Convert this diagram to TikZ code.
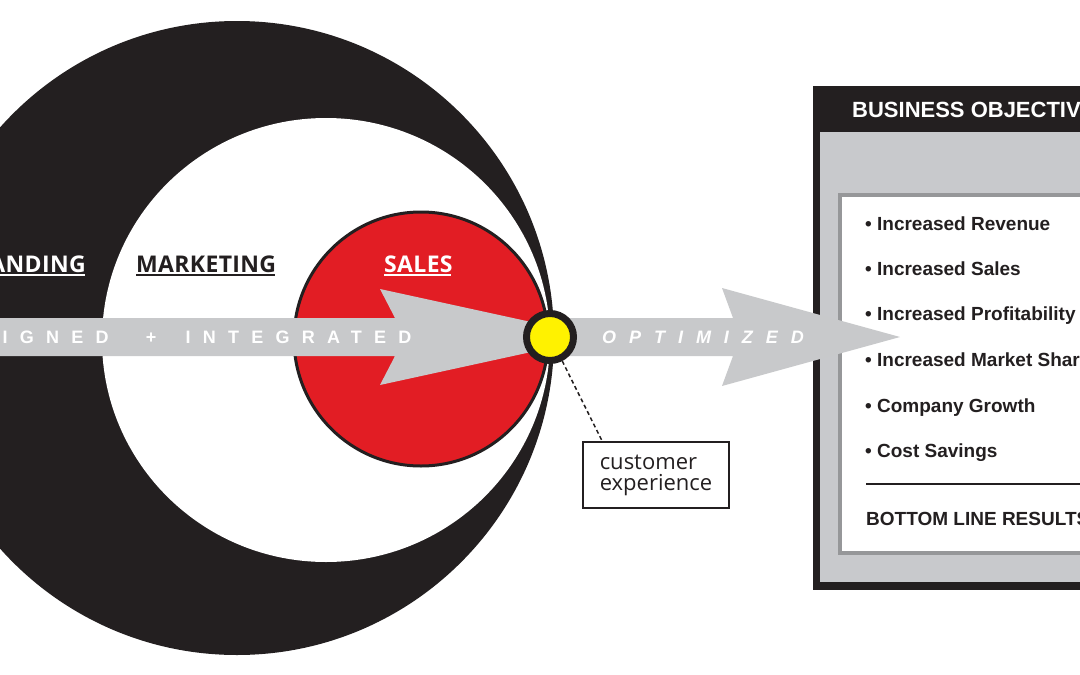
\documentclass[tikz,border=0pt]{standalone}
\usepackage{fontspec}
\setmainfont{Liberation Sans}
\newfontfamily\hv{Liberation Sans}
\newfontfamily\hvsp[LetterSpace=68]{Liberation Sans}
\newfontfamily\hvspo[LetterSpace=72]{Liberation Sans}
\newfontfamily\myr{Open Sans}
\newfontfamily\myrsp[LetterSpace=1.5]{Open Sans}
\usetikzlibrary{calc}
\definecolor{ink}{RGB}{35,31,32}
\definecolor{arrowgray}{RGB}{200,201,203}
\definecolor{panelgray}{RGB}{200,201,204}
\definecolor{edgegray}{RGB}{150,151,153}
\definecolor{salesred}{RGB}{226,29,36}
\definecolor{dotyellow}{RGB}{255,242,0}
\tikzset{
  ringlabel/.style={inner sep=0pt, font=\myrsp\bfseries\fontsize{23}{23}\selectfont, text=ink},
  uline/.style={line width=2pt},
  flowtext/.style={inner sep=0pt, text=white, anchor=base west},
  item/.style={inner sep=0pt, anchor=base west, text=ink, font=\hv\bfseries\fontsize{19}{19}\selectfont},
  grayarrow/.style={fill=arrowgray},
}
\begin{document}
\begin{tikzpicture}[x=1pt,y=-1pt]
\useasboundingbox (0,0) rectangle (1080,675);
\clip (0,0) rectangle (1080,675);
\fill[white] (0,0) rectangle (1080,675);

% rings
\fill[ink] (237,338) circle[radius=317pt];
\fill[white] (326,340) ellipse[x radius=224pt, y radius=222pt];
\filldraw[fill=salesred, draw=ink, line width=3pt] (421,339) circle[radius=127pt];

% ring labels
\node[ringlabel, anchor=base east, text=white] (brand) at (86,272) {BRANDING};
\node[ringlabel, anchor=base west] (mkt) at (136,272) {MARKETING};
\node[ringlabel, anchor=base west, text=white] (sales) at (384,272) {SALES};
\draw[uline, white] ([yshift=-2.5pt]brand.base west) -- ([yshift=-2.5pt,xshift=-1.5pt]brand.base east);
\draw[uline, ink] ([yshift=-2.5pt]mkt.base west) -- ([yshift=-2.5pt,xshift=-1.5pt]mkt.base east);
\draw[uline, white] ([yshift=-2.5pt]sales.base west) -- ([yshift=-2.5pt,xshift=-1.5pt]sales.base east);

% first arrow
\fill[grayarrow] (-5,318) -- (395,318) -- (380,289) -- (600,337) -- (380,385) -- (395,356) -- (-5,356) -- cycle;
\node[flowtext, font=\hvsp\bfseries\fontsize{18}{18}\selectfont] (aligned) at (-46,343.5) {ALIGNED\hspace{20pt} + \hspace{12pt}INTEGRATED};

% business objectives box
\fill[ink] (813,86) rectangle (1090,590);
\fill[panelgray] (820,132) rectangle (1090,582);
\filldraw[fill=white, draw=edgegray, line width=4pt] (840,195) rectangle (1095,553);
\node[inner sep=0pt, anchor=base west, text=white, font=\hv\bfseries\fontsize{22}{22}\selectfont] (title) at (852,117) {BUSINESS OBJECTIVES};
\node[item] (i1) at (865,230) {\textbullet\ Increased Revenue};
\node[item] (i2) at (865,275.5) {\textbullet\ Increased Sales};
\node[item] (i3) at (865,320.5) {\textbullet\ Increased Profitability};
\node[item] (i4) at (865,366.5) {\textbullet\ Increased Market Share};
\node[item] (i5) at (865,412) {\textbullet\ Company Growth};
\node[item] (i6) at (865,457) {\textbullet\ Cost Savings};
\draw[ink, line width=1.5pt] (866,484) -- (1090,484);
\node[item] (bottom) at (866,525) {BOTTOM LINE RESULTS};

% second arrow
\fill[grayarrow] (550,318) -- (733,318) -- (722,288) -- (900,337) -- (722,386) -- (733,356) -- (550,356) -- cycle;
\node[flowtext, font=\hvspo\bfseries\itshape\fontsize{18}{18}\selectfont] (optimized) at (602,343.5) {OPTIMIZED};

% customer experience
\node[circle, fill=dotyellow, draw=ink, line width=7pt, minimum size=47pt, inner sep=0pt] (dot) at (550,337) {};
\node[draw=ink, line width=1.5pt, minimum width=146pt, minimum height=66pt, align=left, inner sep=0pt,
      font=\myr\fontsize{22}{21}\selectfont, text=ink] (cust) at (656,475) {customer\\experience};
\draw[ink, line width=1.5pt, dash pattern=on 4pt off 3pt] (dot.-63) -- ([xshift=20pt]cust.north west);
\end{tikzpicture}
\end{document}
